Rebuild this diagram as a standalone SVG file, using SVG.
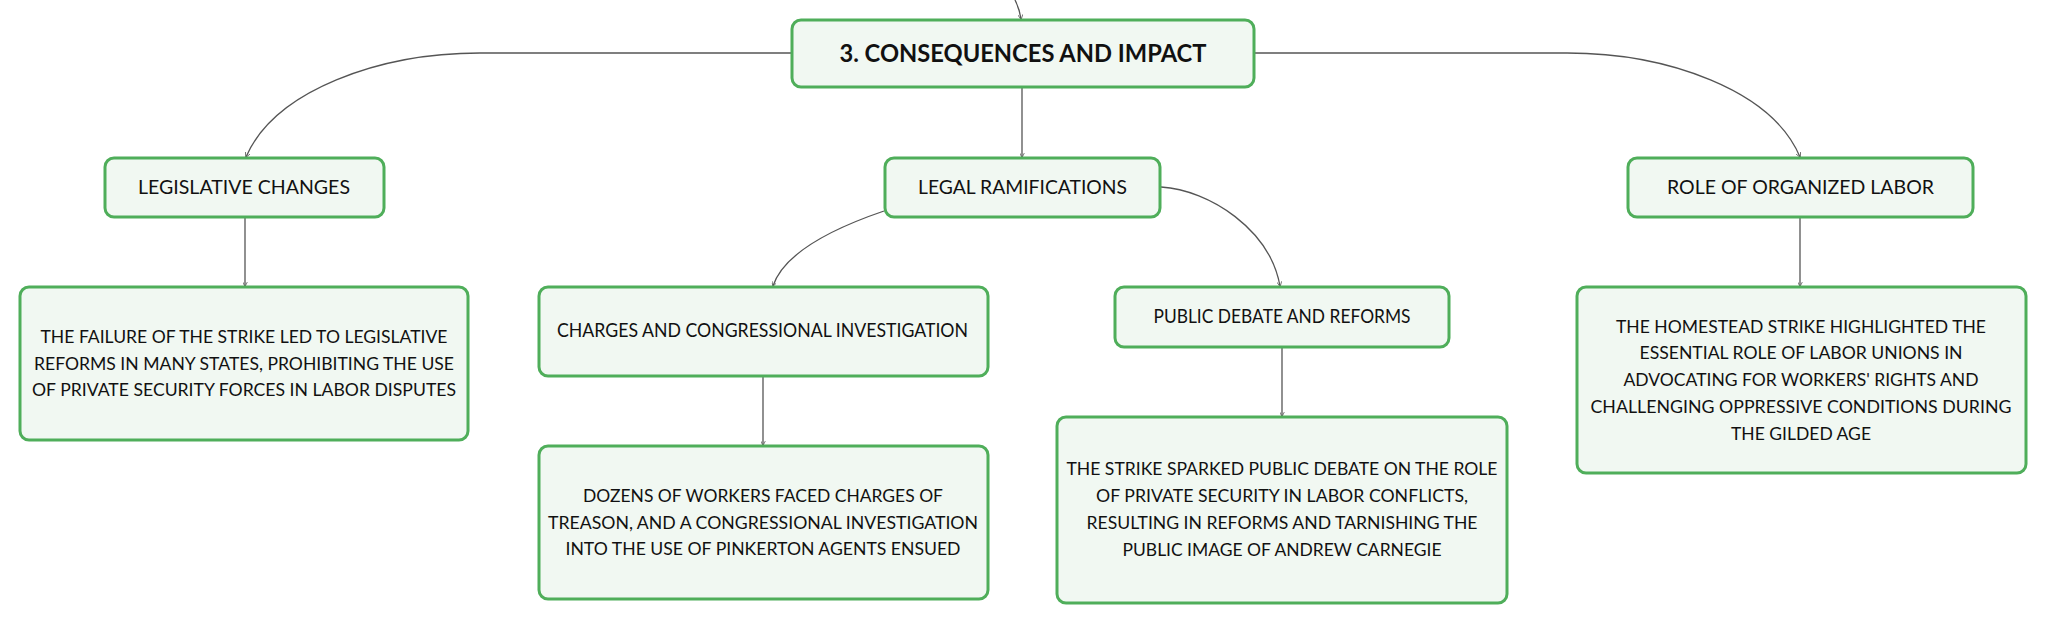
<svg xmlns="http://www.w3.org/2000/svg" width="2046" height="624" viewBox="0 0 2046 624">
<defs>
<marker id="arr" viewBox="0 0 8 8" refX="7" refY="4" markerWidth="5" markerHeight="5" orient="auto" markerUnits="userSpaceOnUse">
<path d="M0,0 L8,4 L0,8" fill="none" stroke="#555" stroke-width="1.2"/>
</marker>
<style>
.box{fill:#f1f8f2;stroke:#4fae5a;stroke-width:3}
.lbl{font-family:Lato,"Noto Sans",sans-serif;font-size:19px;fill:#111;text-anchor:middle}
.body{font-family:Lato,"Noto Sans",sans-serif;font-size:18px;fill:#111;text-anchor:middle}
.title{font-family:Lato,"Noto Sans",sans-serif;font-size:24px;font-weight:700;fill:#111;text-anchor:middle}
.edge{fill:none;stroke:#555;stroke-width:1.3;marker-end:url(#arr)}
</style>
</defs>
<rect width="2046" height="624" fill="#ffffff"/>
<g id="connectors">
<path class="edge" d="M1015,0 C1018,6 1020,12 1021,19"/>
<path class="edge" d="M791,53 L480,53 C380,53 275,90 246,157"/>
<path class="edge" d="M1254,53 L1567,53 C1667,53 1772,90 1800,157"/>
<path class="edge" d="M1022,88 L1022,157"/>
<path class="edge" d="M884,211 C840,226 785,250 773,286"/>
<path class="edge" d="M1161,187 C1210,190 1270,230 1280,286"/>
<path class="edge" d="M245,218 L245,286"/>
<path class="edge" d="M763,377 L763,445"/>
<path class="edge" d="M1282,348 L1282,416"/>
<path class="edge" d="M1800,218 L1800,286"/>
</g>
<g id="main">
<rect class="box" x="792" y="20" width="462" height="67" rx="9"/>
<text class="title" x="1023" y="62" textLength="367" lengthAdjust="spacingAndGlyphs">3. CONSEQUENCES AND IMPACT</text>
</g>
<g id="legislative">
<rect class="box" x="105" y="158" width="279" height="59" rx="9"/>
<text class="lbl" x="244" y="194" textLength="212" lengthAdjust="spacingAndGlyphs">LEGISLATIVE CHANGES</text>
</g>
<g id="legal">
<rect class="box" x="885" y="158" width="275" height="59" rx="9"/>
<text class="lbl" x="1022.5" y="194" textLength="209" lengthAdjust="spacingAndGlyphs">LEGAL RAMIFICATIONS</text>
</g>
<g id="role">
<rect class="box" x="1628" y="158" width="345" height="59" rx="9"/>
<text class="lbl" x="1800.5" y="194" textLength="267" lengthAdjust="spacingAndGlyphs">ROLE OF ORGANIZED LABOR</text>
</g>
<g id="failure">
<rect class="box" x="20" y="287" width="448" height="153" rx="9"/>
<text class="body" x="244" y="343" textLength="407" lengthAdjust="spacingAndGlyphs">THE FAILURE OF THE STRIKE LED TO LEGISLATIVE</text>
<text class="body" x="244" y="369.5" textLength="420" lengthAdjust="spacingAndGlyphs">REFORMS IN MANY STATES, PROHIBITING THE USE</text>
<text class="body" x="244" y="396" textLength="424" lengthAdjust="spacingAndGlyphs">OF PRIVATE SECURITY FORCES IN LABOR DISPUTES</text>
</g>
<g id="charges">
<rect class="box" x="539" y="287" width="449" height="89" rx="9"/>
<text class="lbl" x="762.5" y="337" textLength="411" lengthAdjust="spacingAndGlyphs">CHARGES AND CONGRESSIONAL INVESTIGATION</text>
</g>
<g id="dozens">
<rect class="box" x="539" y="446" width="449" height="153" rx="9"/>
<text class="body" x="763" y="502" textLength="360" lengthAdjust="spacingAndGlyphs">DOZENS OF WORKERS FACED CHARGES OF</text>
<text class="body" x="763" y="528.5" textLength="430" lengthAdjust="spacingAndGlyphs">TREASON, AND A CONGRESSIONAL INVESTIGATION</text>
<text class="body" x="763" y="555" textLength="395" lengthAdjust="spacingAndGlyphs">INTO THE USE OF PINKERTON AGENTS ENSUED</text>
</g>
<g id="public">
<rect class="box" x="1115" y="287" width="334" height="60" rx="9"/>
<text class="lbl" x="1282" y="323" textLength="257" lengthAdjust="spacingAndGlyphs">PUBLIC DEBATE AND REFORMS</text>
</g>
<g id="strike">
<rect class="box" x="1057" y="417" width="450" height="186" rx="9"/>
<text class="body" x="1282" y="475" textLength="431" lengthAdjust="spacingAndGlyphs">THE STRIKE SPARKED PUBLIC DEBATE ON THE ROLE</text>
<text class="body" x="1282" y="502" textLength="372" lengthAdjust="spacingAndGlyphs">OF PRIVATE SECURITY IN LABOR CONFLICTS,</text>
<text class="body" x="1282" y="529" textLength="391" lengthAdjust="spacingAndGlyphs">RESULTING IN REFORMS AND TARNISHING THE</text>
<text class="body" x="1282" y="556" textLength="319" lengthAdjust="spacingAndGlyphs">PUBLIC IMAGE OF ANDREW CARNEGIE</text>
</g>
<g id="homestead">
<rect class="box" x="1577" y="287" width="449" height="186" rx="9"/>
<text class="body" x="1801" y="332.5" textLength="370" lengthAdjust="spacingAndGlyphs">THE HOMESTEAD STRIKE HIGHLIGHTED THE</text>
<text class="body" x="1801" y="359" textLength="323" lengthAdjust="spacingAndGlyphs">ESSENTIAL ROLE OF LABOR UNIONS IN</text>
<text class="body" x="1801" y="386" textLength="355" lengthAdjust="spacingAndGlyphs">ADVOCATING FOR WORKERS' RIGHTS AND</text>
<text class="body" x="1801" y="413" textLength="421" lengthAdjust="spacingAndGlyphs">CHALLENGING OPPRESSIVE CONDITIONS DURING</text>
<text class="body" x="1801" y="440" textLength="140" lengthAdjust="spacingAndGlyphs">THE GILDED AGE</text>
</g>
</svg>
